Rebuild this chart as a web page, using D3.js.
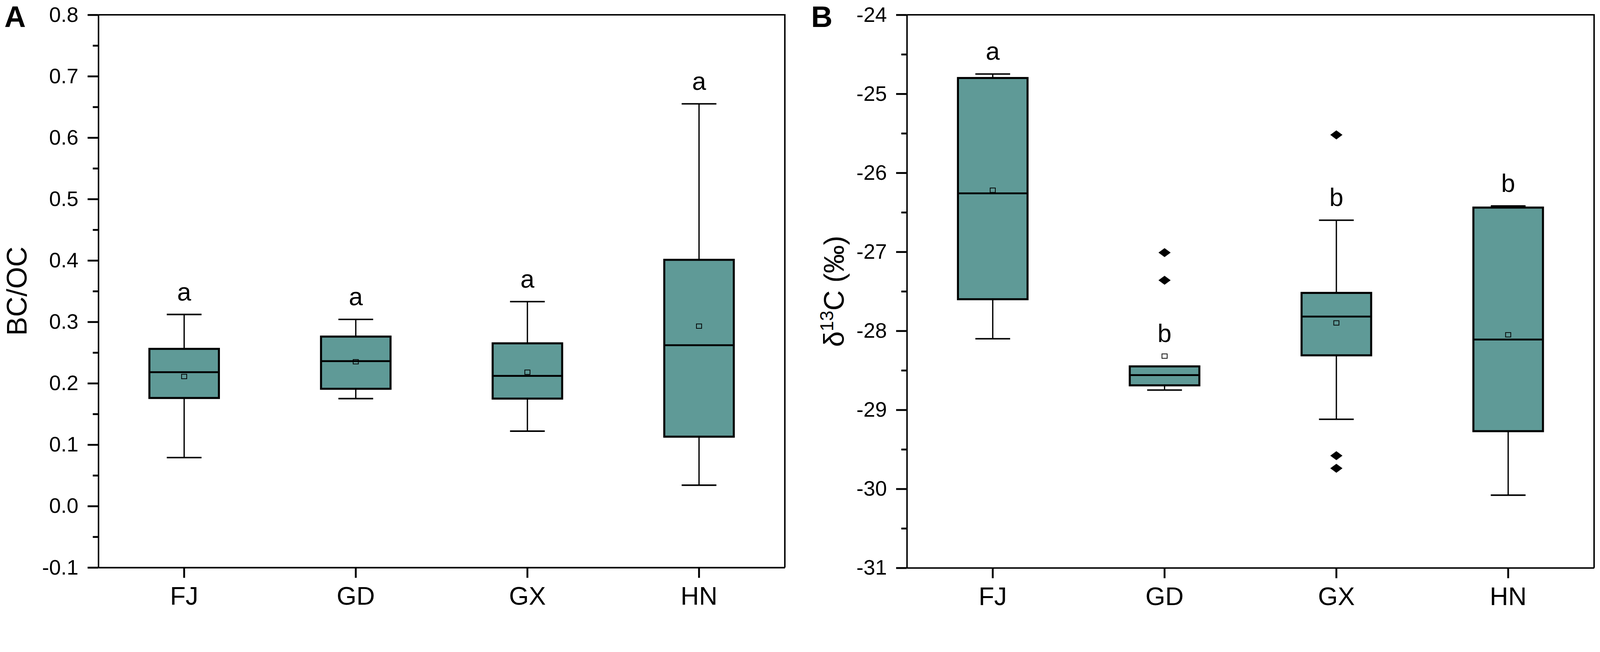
<!DOCTYPE html>
<html>
<head>
<meta charset="utf-8">
<title>BC/OC and d13C box plots</title>
<script src="https://cdn.jsdelivr.net/npm/d3@7"></script>
<style>
  html, body { margin: 0; padding: 0; background: #fff; overflow: hidden; width: 100%; height: 100%; }
  svg { display: block; width: 100vw; height: 100vh; }
  text { font-family: "Liberation Sans", Arial, sans-serif; }
</style>
</head>
<body>
<svg viewBox="0 0 4328 1668" preserveAspectRatio="xMinYMin meet" id="mainsvg"></svg>
<script>
    // ---- data ----
    const regions = ['FJ', 'GD', 'GX', 'HN'];

    // panel A: BC/OC
    const bcocMin    = [0.079, 0.175, 0.122, 0.034];
    const bcocQ1     = [0.176, 0.191, 0.175, 0.113];
    const bcocMedian = [0.218, 0.236, 0.212, 0.262];
    const bcocQ3     = [0.256, 0.276, 0.265, 0.401];
    const bcocMax    = [0.312, 0.304, 0.333, 0.655];
    const bcocMean   = [0.211, 0.235, 0.218, 0.293];
    const bcocOutliers = [[], [], [], []];
    const bcocLetters  = ['a', 'a', 'a', 'a'];
    const bcocTicks = [-0.1, 0.0, 0.1, 0.2, 0.3, 0.4, 0.5, 0.6, 0.7, 0.8];

    // panel B: d13C (permil)
    const d13cMin    = [-28.10, -28.75, -29.12, -30.08];
    const d13cQ1     = [-27.60, -28.69, -28.31, -29.27];
    const d13cMedian = [-26.26, -28.56, -27.82, -28.11];
    const d13cQ3     = [-24.80, -28.45, -27.52, -26.44];
    const d13cMax    = [-24.75, -28.45, -26.60, -26.42];
    const d13cMean   = [-26.22, -28.32, -27.90, -28.05];
    const d13cOutliers = [[], [-27.01, -27.36], [-25.52, -29.58, -29.74], []];
    const d13cLetters  = ['a', 'b', 'b', 'b'];
    const d13cTicks = [-31, -30, -29, -28, -27, -26, -25, -24];

    const boxFill = '#5f9a97';
    let mainsvg = d3.select('#mainsvg');

    function buildRows(mins, q1s, meds, q3s, maxs, means, outs, letters){
        return regions.map((r, i) => ({
            region: r, min: mins[i], q1: q1s[i], median: meds[i],
            q3: q3s[i], max: maxs[i], mean: means[i],
            outliers: outs[i], letter: letters[i]
        }));
    }

    function drawPanel(opt){
        const g = mainsvg.append('g');
        const x = d3.scaleBand().domain(regions).range([opt.left, opt.right]);
        const y = d3.scaleLinear()
            .domain([opt.ticks[0], opt.ticks[opt.ticks.length - 1]])
            .range([opt.bottom, opt.top]);
        const step = opt.ticks[1] - opt.ticks[0];
        const minors = opt.ticks.slice(0, -1).map(t => t + step / 2);

        // minor ticks
        g.append('g')
            .attr('transform', `translate(${opt.left},0)`)
            .call(d3.axisLeft(y).tickValues(minors).tickSize(15).tickFormat(''))
            .call(a => a.select('.domain').remove())
            .selectAll('line').attr('stroke-width', 5);

        // major ticks + labels
        let yAxis = g.append('g')
            .attr('transform', `translate(${opt.left},0)`)
            .call(d3.axisLeft(y).tickValues(opt.ticks).tickSize(29).tickSizeOuter(0)
                .tickPadding(25).tickFormat(opt.fmt));
        yAxis.selectAll('line').attr('stroke-width', 5);
        yAxis.select('.domain').attr('stroke-width', 4);
        yAxis.selectAll('text').attr('font-size', 57).attr('fill', '#000')
            .attr('font-family', '"Liberation Sans", Arial, sans-serif');

        let xAxis = g.append('g')
            .attr('transform', `translate(0,${opt.bottom})`)
            .call(d3.axisBottom(x).tickSize(28).tickSizeOuter(0).tickPadding(24));
        xAxis.selectAll('line').attr('stroke-width', 5);
        xAxis.select('.domain').attr('stroke-width', 4);
        xAxis.selectAll('text').attr('font-size', 69).attr('fill', '#000')
            .attr('font-family', '"Liberation Sans", Arial, sans-serif');

        // top and right frame
        g.append('path')
            .attr('d', `M${opt.left},${opt.top}H${opt.right}V${opt.bottom}`)
            .attr('fill', 'none').attr('stroke', '#000').attr('stroke-width', 4);

        const bw = x.bandwidth() * 0.405;
        const cw = bw / 2;
        const boxes = g.selectAll('.box').data(opt.rows).join('g')
            .attr('class', 'box')
            .attr('transform', d => `translate(${x(d.region) + x.bandwidth() / 2},0)`);

        // whiskers
        boxes.append('line')
            .attr('x1', 0).attr('x2', 0)
            .attr('y1', d => y(d.max)).attr('y2', d => y(d.min))
            .attr('stroke', '#000').attr('stroke-width', 3.5);
        boxes.selectAll('.cap').data(d => [d.min, d.max]).join('line')
            .attr('class', 'cap')
            .attr('x1', -cw / 2).attr('x2', cw / 2)
            .attr('y1', v => y(v)).attr('y2', v => y(v))
            .attr('stroke', '#000').attr('stroke-width', 4);

        // box
        boxes.append('rect')
            .attr('x', -bw / 2).attr('width', bw)
            .attr('y', d => y(d.q3)).attr('height', d => y(d.q1) - y(d.q3))
            .attr('fill', boxFill).attr('stroke', '#000').attr('stroke-width', 5.5);

        // mean marker
        boxes.append('rect')
            .attr('x', -7).attr('width', 14)
            .attr('y', d => y(d.mean) - 6).attr('height', 12)
            .attr('fill', 'none').attr('stroke', '#000').attr('stroke-width', 2);

        // median
        boxes.append('line')
            .attr('x1', -bw / 2).attr('x2', bw / 2)
            .attr('y1', d => y(d.median)).attr('y2', d => y(d.median))
            .attr('stroke', '#000').attr('stroke-width', 5);

        // outliers
        boxes.selectAll('.out').data(d => d.outliers).join('path')
            .attr('class', 'out')
            .attr('d', d3.symbol(d3.symbolDiamond2, 380))
            .attr('transform', v => `translate(0,${y(v)}) scale(1.35,1)`)
            .attr('fill', '#000');

        // significance letters
        boxes.append('text')
            .attr('text-anchor', 'middle')
            .attr('y', d => y(Math.max(d.max, d.mean)) - 38)
            .attr('font-size', 68)
            .text(d => d.letter);

        // axis title
        const title = g.append('text')
            .attr('transform', `translate(${opt.titleX},${(opt.top + opt.bottom) / 2}) rotate(-90)`)
            .attr('text-anchor', 'middle')
            .attr('font-size', 76);
        opt.title(title);

        // panel letter
        g.append('text')
            .attr('x', opt.labelX).attr('y', 73)
            .attr('font-size', 80).attr('font-weight', 'bold')
            .text(opt.label);
    }

    drawPanel({
        label: 'A', labelX: 12,
        left: 266, right: 2123, top: 40, bottom: 1534,
        ticks: bcocTicks, fmt: d => d.toFixed(1),
        rows: buildRows(bcocMin, bcocQ1, bcocMedian, bcocQ3, bcocMax, bcocMean, bcocOutliers, bcocLetters),
        titleX: 72,
        title: t => t.text('BC/OC')
    });

    drawPanel({
        label: 'B', labelX: 2194,
        left: 2453, right: 4312, top: 40, bottom: 1535,
        ticks: d13cTicks, fmt: d => String(d),
        rows: buildRows(d13cMin, d13cQ1, d13cMedian, d13cQ3, d13cMax, d13cMean, d13cOutliers, d13cLetters),
        titleX: 2282,
        title: t => {
            t.append('tspan').text('δ');
            t.append('tspan').attr('font-size', 50).attr('dy', -28).text('13');
            t.append('tspan').attr('dy', 28).text('C (‰)');
        }
    });
</script>
</body>
</html>
